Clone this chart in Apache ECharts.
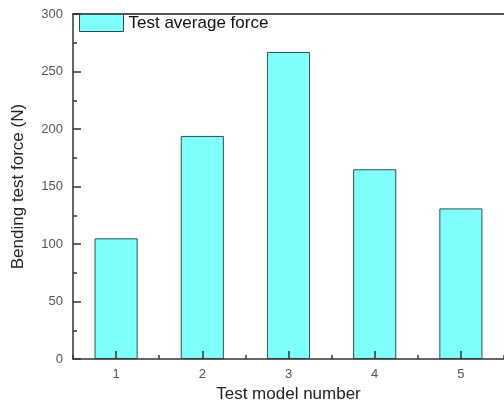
<!DOCTYPE html>
<html>
<head>
<meta charset="utf-8">
<script src="https://cdn.jsdelivr.net/npm/echarts@6/dist/echarts.min.js"></script>
<style>
html,body{margin:0;padding:0;background:#fff;}
#chart{width:504px;height:408px;}
</style>
</head>
<body>
<div id="chart"></div>
<script>
const categories = ['1', '2', '3', '4', '5'];
const forceValues = [105, 194, 267, 165, 131];
const seriesName = 'Test average force';
const xAxisName = 'Test model number';
const yAxisName = 'Bending test force (N)';

const chart = echarts.init(document.getElementById('chart'));
const font = 'Liberation Sans, Arial, sans-serif';
const axisColor = '#333';
chart.setOption({
  animation: false,
  backgroundColor: '#fff',
  textStyle: { fontFamily: font },
  grid: { left: 73, top: 14, right: 0, bottom: 46, containLabel: false },
  legend: {
    left: 79, top: 14, padding: 0,
    icon: 'rect',
    itemWidth: 44, itemHeight: 17, itemGap: 5,
    textStyle: { fontSize: 17, color: '#111', fontFamily: font },
    itemStyle: { color: '#80ffff', borderColor: '#2f4f4f', borderWidth: 1 },
    data: [seriesName]
  },
  xAxis: [
    {
      type: 'category', data: categories, position: 'bottom', z: 5,
      name: xAxisName, nameLocation: 'middle', nameGap: 24,
      nameTextStyle: { fontSize: 17, color: '#222', fontFamily: font },
      axisLine: { lineStyle: { color: axisColor, width: 1.5 } },
      axisTick: { show: true, inside: true, alignWithLabel: true, length: 8, lineStyle: { color: axisColor, width: 1.5 } },
      axisLabel: { fontSize: 13, color: '#555', margin: 9, fontFamily: font },
      splitLine: { show: false }
    },
    {
      type: 'category', data: categories, position: 'bottom', z: 5,
      axisLine: { show: false },
      axisTick: { show: true, inside: true, alignWithLabel: false, length: 4, lineStyle: { color: axisColor, width: 1.5 } },
      axisLabel: { show: false },
      splitLine: { show: false }
    },
    {
      type: 'category', data: categories, position: 'top', z: 5,
      axisLine: { show: true, lineStyle: { color: '#555', width: 2 } },
      axisTick: { show: false },
      axisLabel: { show: false },
      splitLine: { show: false }
    }
  ],
  yAxis: {
    type: 'value', min: 0, max: 300, interval: 50, z: 5,
    name: yAxisName, nameLocation: 'middle', nameGap: 46,
    nameTextStyle: { fontSize: 17, color: '#222', fontFamily: font },
    axisLine: { show: true, lineStyle: { color: axisColor, width: 1.5 } },
    axisTick: { show: true, inside: true, length: 8, lineStyle: { color: axisColor, width: 1.5 } },
    minorTick: { show: true, splitNumber: 2, length: 4, lineStyle: { color: axisColor, width: 1.5 } },
    axisLabel: { fontSize: 13, color: '#555', margin: 10, fontFamily: font },
    splitLine: { show: false }
  },
  series: [{
    name: seriesName,
    type: 'bar',
    xAxisIndex: 0,
    data: forceValues,
    barWidth: '50%',
    itemStyle: { color: '#80ffff', borderColor: '#2f4f4f', borderWidth: 1 }
  }]
});
</script>
</body>
</html>
